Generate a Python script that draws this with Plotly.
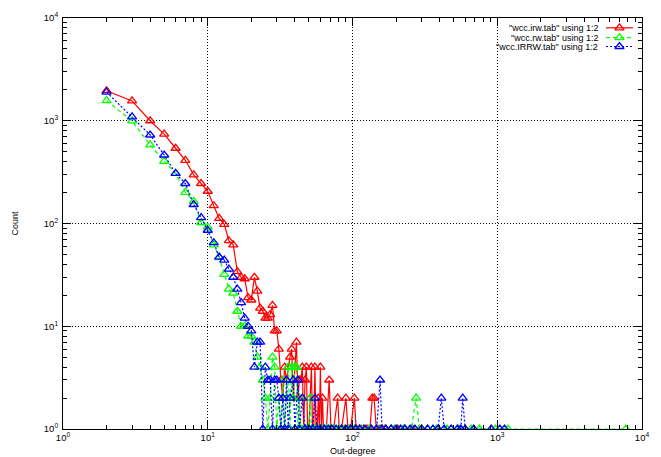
import plotly.graph_objects as go

# ---- data ----
deg_irw = [2,3,4,5,6,7,8,9,10,11,12,13,14,15,16,17,18,19,20,21,22,23,24,25,26,27,28,29,30,
           31,32,33,34,35,36,37,38,39,40,41,42,43,44,45,46,47,48,49,50,51,52,53,54,55,56,57,
           58,59,60,61,62,63,66,69,71,74,79,81,84,90,93,97,103,106,112,119,126,132,137,141,
           146,155,168,185,205,230,260,300]
cnt_irw = [1960,1560,1000,740,540,412,297,245,206,149,112,98,68,62,34,30,29,19,18,30,22,15,14,12,12,13,16,9,9,
           6,3,2,4,3,4,5,6,2,4,7,2,3,3,4,1,3,4,1,1,2,4,1,1,4,1,1,
           2,1,4,1,2,1,1,3,1,1,2,1,1,2,1,1,2,1,1,1,1,1,2,2,
           1,1,1,1,1,1,1,1]

deg_rw = [2,3,4,5,6,7,8,9,10,11,12,13,14,15,16,17,18,19,20,21,22,23,24,25,26,27,28,29,30,
          31,32,33,34,35,36,37,38,39,40,41,42,43,44,46,48,50,51,52,55,58,62,66,70,75,81,88,
          95,103,115,130,150,170,195,225,255,275,290,330,380,450,540,660,753,973,1184,7750]
cnt_rw = [1570,995,583,403,307,201,164,102,92,62,47,32,23,21,14,10,10,8,8,7,5,4,3,2,1,2,5,4,1,
          2,1,3,1,2,4,1,4,2,4,4,1,2,1,1,1,1,2,1,1,1,1,1,1,1,1,1,
          1,1,1,1,1,1,1,1,1,2,1,1,1,1,1,1,1,1,1,1]

deg_irrw = [2,3,4,5,6,7,8,9,10,11,12,13,14,15,16,17,18,19,20,21,22,23,24,25,26,27,28,29,30,
            31,32,33,34,35,36,37,39,40,42,43,45,47,50,53,55,57,60,64,68,72,77,84,90,97,105,
            112,122,135,147,155,160,170,185,200,215,230,250,270,300,330,360,390,411,430,480,
            530,560,577,600,688,908,1042,1122]
cnt_irrw = [1900,1090,727,464,308,245,153,114,86,65,47,44,36,30,23,17,12,10,9,4,7,7,1,4,3,3,1,3,3,
            2,1,2,1,3,1,2,3,1,3,1,2,1,1,1,2,1,1,1,1,1,1,1,1,1,1,
            1,1,1,1,3,1,1,1,1,1,1,1,1,1,1,1,1,2,1,1,
            1,1,2,1,1,1,1,1]

series_names = ['"wcc.irw.tab" using 1:2', '"wcc.rw.tab" using 1:2', '"wcc.IRRW.tab" using 1:2']
series_colors = ["#ff0000", "#00ff00", "#0000ff"]
series_dash = ["solid", "4px,3px", "2px,2px"]

tick_vals = [1, 10, 100, 1000, 10000]
tick_text = ["10<sup>0</sup>", "10<sup>1</sup>", "10<sup>2</sup>", "10<sup>3</sup>", "10<sup>4</sup>"]
minor_vals = [m * 10 ** e for e in range(4) for m in range(2, 10)]

W, H = 661, 457
ML, MR, MT, MB = 63, 19, 11, 28
PW, PH = W - ML - MR, H - MT - MB

def px(x):
    return (x - ML) / PW

def py(y):
    return (H - MB - y) / PH

FONT = "Liberation Sans, Arial, sans-serif"
LW = 1.2
MS = 8

fig = go.Figure()
for xs, ys, c, d in zip([deg_irw, deg_rw, deg_irrw], [cnt_irw, cnt_rw, cnt_irrw],
                        series_colors, series_dash):
    fig.add_trace(go.Scatter(
        x=xs, y=ys, mode="lines+markers", showlegend=False,
        line=dict(color=c, width=LW, dash=d),
        marker=dict(symbol="triangle-up-open", size=MS, color=c, line=dict(color=c, width=1.3)),
    ))

# manual gnuplot-style key (text then sample) on an overlay axis
key_rows = [21, 31, 40]
for name, c, d, ry in zip(series_names, series_colors, series_dash, key_rows):
    fig.add_trace(go.Scatter(
        x=[px(606), px(633)], y=[py(ry), py(ry)], mode="lines", showlegend=False,
        xaxis="x2", yaxis="y2", line=dict(color=c, width=LW, dash=d), hoverinfo="skip"))
    fig.add_trace(go.Scatter(
        x=[px(619.5)], y=[py(ry)], mode="markers", showlegend=False,
        xaxis="x2", yaxis="y2", hoverinfo="skip",
        marker=dict(symbol="triangle-up-open", size=MS, color=c, line=dict(color=c, width=1.3))))
    fig.add_annotation(x=px(600), y=py(ry), xref="paper", yref="paper", text=name,
                       showarrow=False, xanchor="right", yanchor="middle",
                       font=dict(size=9, color="black", family=FONT))

axis_common = dict(
    type="log", range=[0, 4], tickmode="array", tickvals=tick_vals, ticktext=tick_text,
    ticks="inside", ticklen=8, tickwidth=1, tickcolor="black",
    showline=True, linecolor="black", linewidth=1, mirror="allticks",
    showgrid=True, gridcolor="black", gridwidth=1, griddash="1px,2px",
    zeroline=False, tickfont=dict(size=9.5, color="black", family=FONT),
    minor=dict(tickmode="array", tickvals=minor_vals, ticks="inside", ticklen=4,
               tickwidth=1, tickcolor="black", showgrid=False),
)

fig.update_layout(
    width=W, height=H,
    margin=dict(l=ML, r=MR, t=MT, b=MB, pad=0),
    paper_bgcolor="white", plot_bgcolor="white",
    font=dict(family=FONT, size=9, color="black"),
    xaxis=dict(**axis_common),
    yaxis=dict(**axis_common, ticklabelstandoff=2),
    xaxis2=dict(overlaying="x", range=[0, 1], visible=False, fixedrange=True),
    yaxis2=dict(overlaying="y", range=[0, 1], visible=False, fixedrange=True),
    showlegend=False,
)

fig.add_annotation(x=px((ML + W - MR) / 2), y=py(451), xref="paper", yref="paper",
                   text="Out-degree", showarrow=False, xanchor="center", yanchor="middle",
                   font=dict(size=9, color="black", family=FONT))
fig.add_annotation(x=px(14), y=py(220), xref="paper", yref="paper",
                   text="Count", showarrow=False, textangle=-90, xanchor="center", yanchor="middle",
                   font=dict(size=9, color="black", family=FONT))

fig.write_html("out.html")
